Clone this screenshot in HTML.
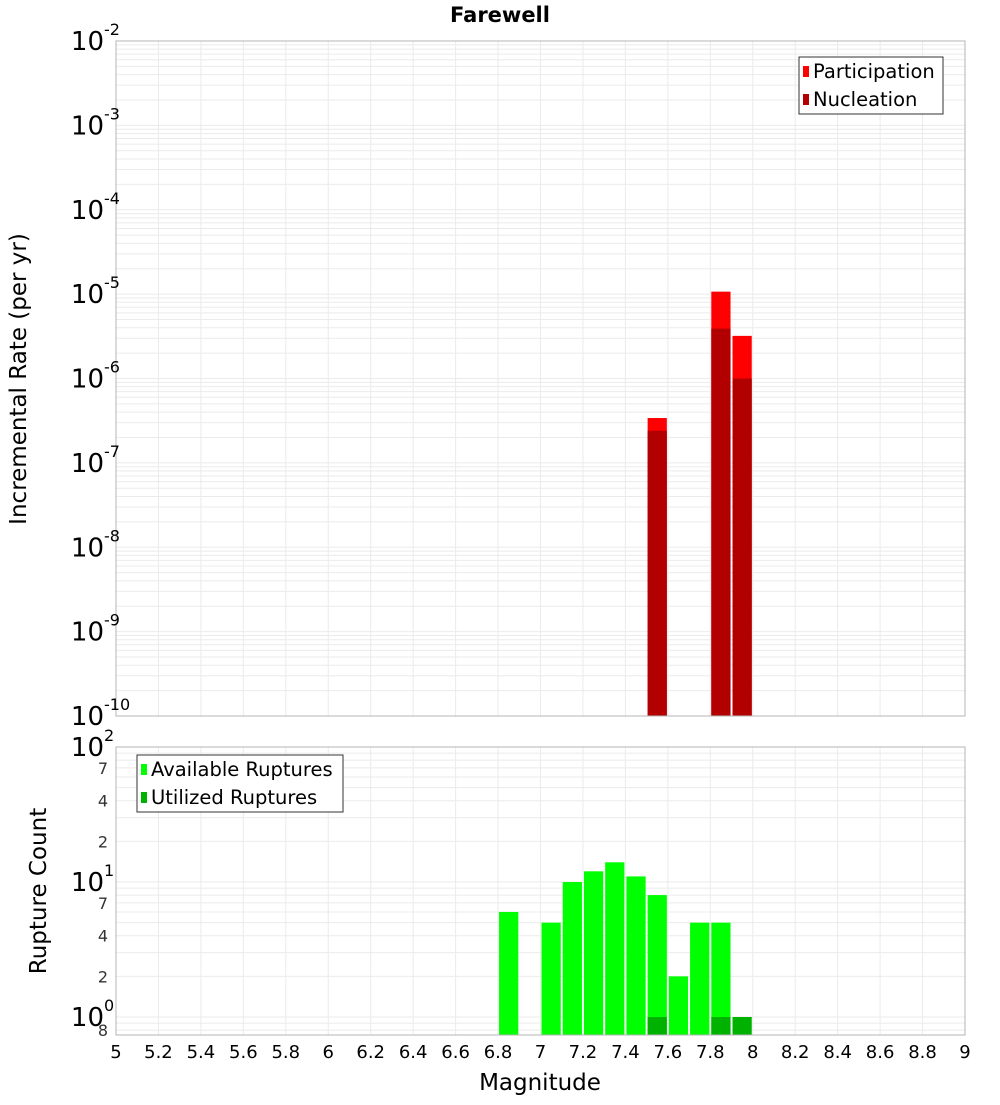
<!DOCTYPE html>
<html><head><meta charset="utf-8"><style>
body{margin:0;background:#fff;font-family:"Liberation Sans","DejaVu Sans",sans-serif}
</style></head><body>
<svg id="c" width="1000" height="1100" xmlns="http://www.w3.org/2000/svg" font-family="DejaVu Sans, Liberation Sans, sans-serif"></svg>
<script>
const magBins=[7.55,7.85,7.95];
const participation=[3.4e-7,1.07e-5,3.2e-6];
const nucleation=[2.4e-7,3.9e-6,1.0e-6];
const availBins=[6.85,7.05,7.15,7.25,7.35,7.45,7.55,7.65,7.75,7.85];
const available=[6,5,10,12,14,11,8,2,5,5];
const utilBins=[7.55,7.85,7.95];
const utilized=[1,1,1];
const xTicks=["5","5.2","5.4","5.6","5.8","6","6.2","6.4","6.6","6.8","7","7.2","7.4","7.6","7.8","8","8.2","8.4","8.6","8.8","9"];

const svg=document.getElementById('c');const NS='http://www.w3.org/2000/svg';
function el(t,a,p){const e=document.createElementNS(NS,t);for(const k in a)e.setAttribute(k,a[k]);(p||svg).appendChild(e);return e;}
const L=116,R=965;
const X=v=>L+(v-5)/4*(R-L);
const T0=41,T1=716,B0=747,B1=1035;
const Yt=v=>T0+(-2-Math.log10(v))*(T1-T0)/8;
const Yb=v=>1017-Math.log10(v)*135;

function grid(y0,y1,yf,decs){
  for(let d=decs[0];d<decs[1];d++)for(let m=1;m<10;m++){const y=yf(m*Math.pow(10,d));if(y>=y0&&y<=y1){const g=el('line',{x1:L,x2:R,y1:y,y2:y,stroke:'#ebebeb','stroke-width':1});}}
  for(let i=0;i<xTicks.length;i++){const x=X(+xTicks[i]);const g=el('line',{x1:x,x2:x,y1:y0,y2:y1,stroke:'#ebebeb'});}
}
grid(T0,T1,Yt,[-10,-2]);
grid(B0,B1,Yb,[-1,2]);

function bars(bins,vals,yf,base,color,name){
  bins.forEach((b,i)=>{const x0=X(b-0.05)+1,x1=X(b+0.05)-1;const y=yf(vals[i]);
    const r=el('rect',{x:x0,y:y,width:x1-x0,height:base-y,fill:color});
    });
}
bars(magBins,participation,Yt,T1,'#ff0000','participation-bar');
bars(magBins,nucleation,Yt,T1,'#b20000','nucleation-bar');
bars(availBins,available,Yb,B1,'#00ff00','available-bar');
bars(utilBins,utilized,Yb,B1,'#00b200','utilized-bar');

el('rect',{x:L,y:T0,width:R-L,height:T1-T0,fill:'none',stroke:'#b4b4b4',});
el('rect',{x:L,y:B0,width:R-L,height:B1-B0,fill:'none',stroke:'#b4b4b4',});

for(let d=-10;d<=-2;d++){const y=Yt(Math.pow(10,d));
  const t=el('text',{x:104,y:y+9,'font-size':26,'text-anchor':'end'});t.textContent='10';
  
  const s=el('text',{x:104,y:y-6,'font-size':16});s.textContent=String(d);
  }
[[100,'2'],[10,'1'],[1,'0']].forEach(([v,e])=>{const y=Yb(v);
  const t=el('text',{x:104,y:y+9,'font-size':26,'text-anchor':'end'});t.textContent='10';
  
  const s=el('text',{x:104,y:y-6,'font-size':16});s.textContent=e;
  });
[[70,'7'],[40,'4'],[20,'2'],[7,'7'],[4,'4'],[2,'2'],[0.8,'8']].forEach(([v,l])=>{
  const t=el('text',{x:108,y:Yb(v)+6,'font-size':16,'text-anchor':'end',fill:'#333'});t.textContent=l;
  });
xTicks.forEach(l=>{const t=el('text',{x:X(+l),y:1058,'font-size':18,'text-anchor':'middle'});t.textContent=l;
  });

function txt(s,a,n){const t=el('text',a);t.textContent=s;return t;}
txt('Farewell',{x:500,y:22,'font-size':21,'font-weight':'bold','text-anchor':'middle'},'chart-title');
txt('Magnitude',{x:540,y:1090,'font-size':23,'text-anchor':'middle'},'x-axis-title');
txt('Incremental Rate (per yr)',{x:0,y:0,'font-size':23,'text-anchor':'middle',transform:'translate(26,379) rotate(-90)'},'top-y-axis-title');
txt('Rupture Count',{x:0,y:0,'font-size':23,'text-anchor':'middle',transform:'translate(46,891) rotate(-90)'},'bottom-y-axis-title');

function legend(x,y,w,items,n){const g=el('g',{});
  el('rect',{x:x,y:y,width:w,height:57,fill:'#fff',stroke:'#333'},g);
  items.forEach(([c,l],i)=>{el('rect',{x:x+4,y:y+9+i*28,width:6,height:11,fill:c},g);
    const t=el('text',{x:x+14,y:y+21+i*28,'font-size':19.5},g);t.textContent=l;});}
legend(799,57,144,[['#ff0000','Participation'],['#b20000','Nucleation']],'top-legend');
legend(137,755,206,[['#00ff00','Available Ruptures'],['#00b200','Utilized Ruptures']],'bottom-legend');
</script>
</body></html>
